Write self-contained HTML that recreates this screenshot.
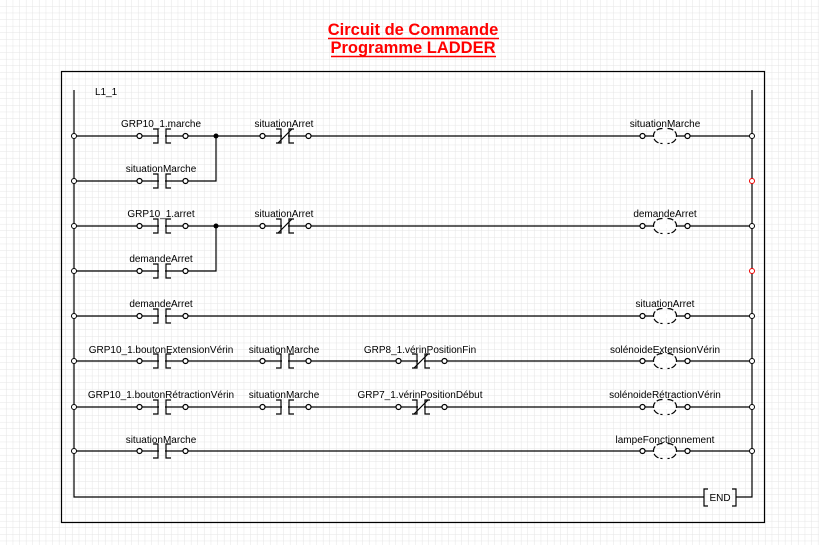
<!DOCTYPE html>
<html><head><meta charset="utf-8"><style>
html,body{margin:0;padding:0;width:819px;height:545px;overflow:hidden;background:#fff}
svg{display:block}
text{font-family:"Liberation Sans",Arial,sans-serif;font-size:10px;fill:#000}
</style></head><body>
<svg width="819" height="545" xmlns="http://www.w3.org/2000/svg">
<defs>
<pattern id="g" width="6.6" height="6.6" patternUnits="userSpaceOnUse"><path d="M6.6 0V6.6H0" fill="none" stroke="#e4e4e4" stroke-width="1"/></pattern>
<g id="no" fill="none" stroke="#000" stroke-width="1.2">
<rect x="-3" y="-2" width="6" height="4" fill="#fff" stroke="none"/>
<path d="M-9 -7H-4V7H-9M9 -7H4V7H9"/>
<circle cx="-22.5" cy="0" r="2.5" fill="#fff"/><circle cx="23.5" cy="0" r="2.5" fill="#fff"/>
</g>
<g id="nc" fill="none" stroke="#000" stroke-width="1.2">
<rect x="-3" y="-2" width="6" height="4" fill="#fff" stroke="none"/>
<path d="M-9 -7H-4V7H-9M9 -7H4V7H9M-7 7L7 -7"/>
<circle cx="-22.5" cy="0" r="2.5" fill="#fff"/><circle cx="23.5" cy="0" r="2.5" fill="#fff"/>
</g>
<g id="coil" fill="none" stroke="#000" stroke-width="1.2">
<rect x="-12" y="-2" width="24" height="4" fill="#fff" stroke="none"/>
<path d="M-2.5 -7.5C-14.5 -7.5 -14.5 7.5 -2.5 7.5M2.5 -7.5C14.5 -7.5 14.5 7.5 2.5 7.5" stroke-dasharray="6 2"/>
<circle cx="-22.5" cy="0" r="2.5" fill="#fff"/><circle cx="22.5" cy="0" r="2.5" fill="#fff"/>
</g>
</defs>
<rect width="819" height="545" fill="url(#g)"/>
<rect x="61.5" y="71.5" width="703" height="451" fill="none" stroke="#000" stroke-width="1.2"/>
<text x="413" y="35" text-anchor="middle" style="font-size:16.5px;font-weight:bold;fill:#f00">Circuit de Commande</text>
<text x="413" y="53" text-anchor="middle" style="font-size:16.5px;font-weight:bold;fill:#f00">Programme LADDER</text>
<path d="M328 38.5H499M331 56.5H496" stroke="#f00" stroke-width="1.5"/>
<text x="95" y="95">L1_1</text>
<g stroke="#000" stroke-width="1.2" fill="none">
<path d="M74 90V497H704M736 497H752V90"/>
<path d="M74 136H752M74 181H216V136M74 226H752M74 271H216V226M74 316H752M74 361H752M74 407H752M74 451H752"/>
<path d="M708 489H704V506H708M732 489H736V506H732"/>
</g>
<text x="720" y="501" text-anchor="middle">END</text>
<circle cx="216" cy="136" r="2.5"/><circle cx="216" cy="226" r="2.5"/>
<g fill="#fff" stroke="#000" stroke-width="1">
<circle cx="74" cy="136" r="2.5"/><circle cx="74" cy="181" r="2.5"/><circle cx="74" cy="226" r="2.5"/><circle cx="74" cy="271" r="2.5"/><circle cx="74" cy="316" r="2.5"/><circle cx="74" cy="361" r="2.5"/><circle cx="74" cy="407" r="2.5"/><circle cx="74" cy="451" r="2.5"/>
<circle cx="752" cy="136" r="2.5"/><circle cx="752" cy="226" r="2.5"/><circle cx="752" cy="316" r="2.5"/><circle cx="752" cy="361" r="2.5"/><circle cx="752" cy="407" r="2.5"/><circle cx="752" cy="451" r="2.5"/>
<circle cx="752" cy="181" r="2.5" stroke="#e00"/><circle cx="752" cy="271" r="2.5" stroke="#e00"/>
</g>
<g>
<use href="#no" x="162" y="136"/><use href="#nc" x="285" y="136"/><use href="#coil" x="665" y="136"/>
<use href="#no" x="162" y="181"/>
<use href="#no" x="162" y="226"/><use href="#nc" x="285" y="226"/><use href="#coil" x="665" y="226"/>
<use href="#no" x="162" y="271"/>
<use href="#no" x="162" y="316"/><use href="#coil" x="665" y="316"/>
<use href="#no" x="162" y="361"/><use href="#no" x="285" y="361"/><use href="#nc" x="421" y="361"/><use href="#coil" x="665" y="361"/>
<use href="#no" x="162" y="407"/><use href="#no" x="285" y="407"/><use href="#nc" x="421" y="407"/><use href="#coil" x="665" y="407"/>
<use href="#no" x="162" y="451"/><use href="#coil" x="665" y="451"/>
</g>
<g text-anchor="middle">
<text x="161" y="127">GRP10_1.marche</text><text x="284" y="127">situationArret</text><text x="665" y="127">situationMarche</text>
<text x="161" y="172">situationMarche</text>
<text x="161" y="217">GRP10_1.arret</text><text x="284" y="217">situationArret</text><text x="665" y="217">demandeArret</text>
<text x="161" y="262">demandeArret</text>
<text x="161" y="307">demandeArret</text><text x="665" y="307">situationArret</text>
<text x="161" y="353">GRP10_1.boutonExtensionVérin</text><text x="284" y="353">situationMarche</text><text x="420" y="353">GRP8_1.vérinPositionFin</text><text x="665" y="353">solénoideExtensionVérin</text>
<text x="161" y="398">GRP10_1.boutonRétractionVérin</text><text x="284" y="398">situationMarche</text><text x="420" y="398">GRP7_1.vérinPositionDébut</text><text x="665" y="398">solénoideRétractionVérin</text>
<text x="161" y="443">situationMarche</text><text x="665" y="443">lampeFonctionnement</text>
</g>
</svg>
</body></html>
